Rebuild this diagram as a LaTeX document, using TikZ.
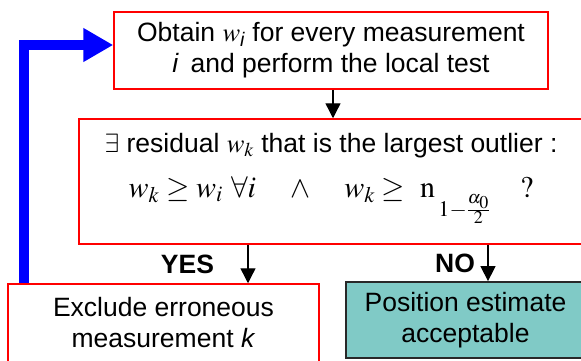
\documentclass[tikz,border=0pt]{standalone}
\usepackage{amsmath}
\usepackage{mathptmx}
\usepackage[no-math]{fontspec}
\setmainfont{Liberation Sans}
\usepackage{tikz}
\usetikzlibrary{calc,arrows.meta}

\definecolor{okteal}{RGB}{128,202,198}
\definecolor{okedge}{RGB}{40,40,40}
\newcommand{\boxfont}{\fontsize{26.5}{31}\selectfont}
\tikzset{
  redbox/.style={draw=red, line width=1.5pt, align=center, inner sep=0pt},
  okbox/.style={draw=okedge, fill=okteal, line width=1.8pt, align=center, inner sep=0pt},
  arw/.style={line width=1.4pt, -{Triangle[length=15pt,width=15pt]}},
  backarw/.style={draw=blue, line width=10pt, -{Triangle[length=30pt,width=32pt]}},
  lbl/.style={font=\boxfont\bfseries}
}

\begin{document}
\begin{tikzpicture}[x=1pt,y=1pt,font=\boxfont]
            \useasboundingbox (0,0) rectangle (581,360);
            \clip (0,0) rectangle (581,360);
            % boxes
            \node[redbox, minimum width=434pt, minimum height=77pt] (obtain) at (331,309.5)
                {Obtain $w_{\text{\itshape i}}$ for every measurement\\ \textit{i}\, and perform the local test};
            \node[redbox, minimum width=504pt, minimum height=125pt] (test) at (331,178.5)
                {$\exists$ residual $w_k$ that is the largest outlier :\\[14pt]
                 {\fontsize{30}{36}\selectfont $w_k \geq w_i\ \forall i \quad \wedge \quad w_k \geq\ \mathrm{n}\,\raisebox{-19pt}{$\scriptstyle 1-\frac{\alpha_0}{2}$} \quad ?$}\\[2pt]};
            \node[redbox, minimum width=311pt, minimum height=78pt] (exclude) at (163.5,37)
                {Exclude erroneous\\ measurement \textit{k}};
            \node[okbox, minimum width=239pt, minimum height=76pt] (accept) at (465.5,40)
                {Position estimate\\ acceptable};
            % connectors
            \coordinate (yesx) at (248,0);
            \coordinate (nox) at (488,0);
            \coordinate (backx) at (24,0);
            \draw[arw] (obtain.south -| 333,0) -- (test.north -| 333,0);
            \draw[arw] (test.south -| yesx) -- node[lbl, left=30pt] (yes) {YES} (exclude.north -| yesx);
            \draw[arw] (test.south -| nox) -- node[lbl, left=9pt] (no) {NO} (accept.north -| nox);
            \draw[backarw] (exclude.north -| backx) |- ([yshift=5.5pt]obtain.west);
\end{tikzpicture}
\end{document}
